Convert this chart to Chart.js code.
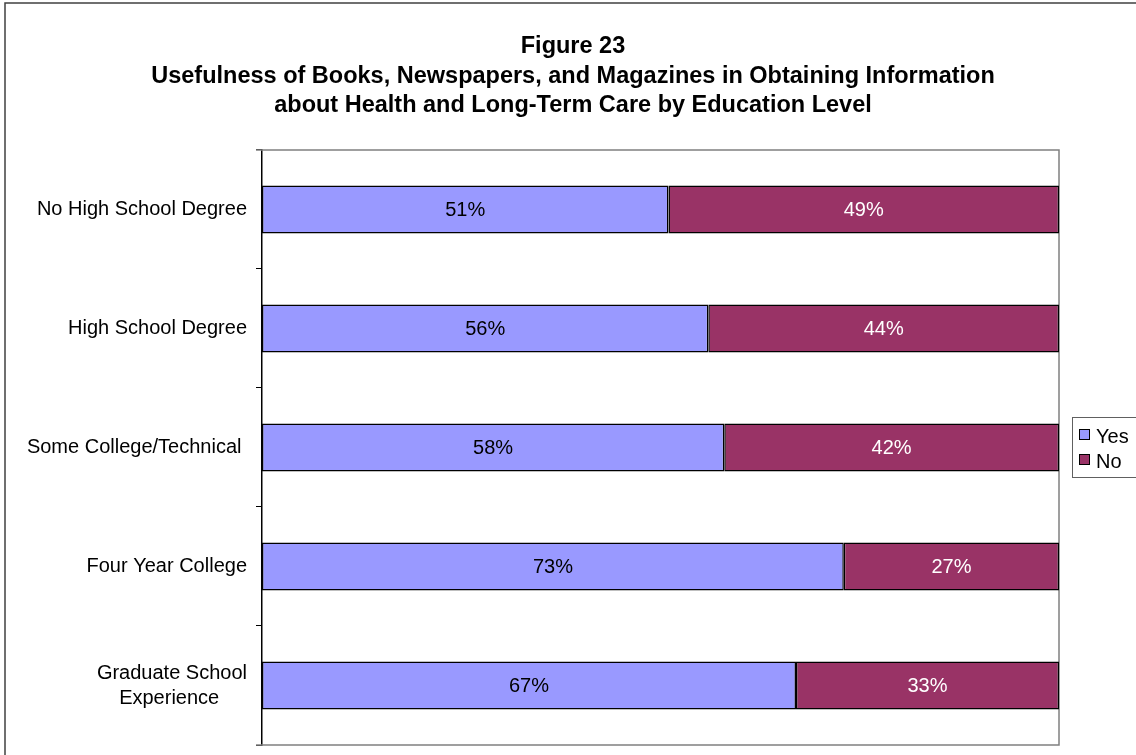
<!DOCTYPE html>
<html>
<head>
<meta charset="utf-8">
<script src="https://cdn.jsdelivr.net/npm/chart.js@4.4.1/dist/chart.umd.min.js"></script>
<style>
  body { margin: 0; background: #fff; }
  #wrap { width: 1136px; height: 755px; position: relative; }
</style>
</head>
<body>
<div id="wrap"><canvas id="eduChart"></canvas></div>
<script>
// Kategori pendidikan (label berakhiran spasi dibiarkan seperti aslinya)
const categories = [
  'No High School Degree',
  'High School Degree',
  'Some College/Technical ',
  'Four Year College',
  ['Graduate School', 'Experience     ']
];

// Persentase jawaban
const yesValues = [51, 56, 58, 73, 67];
const noValues = [49, 44, 42, 27, 33];

const seriesNames = ['Yes', 'No'];
const seriesColors = ['#9999FF', '#993366'];
const labelColors = ['#000000', '#FFFFFF'];

const FONT = 'Arial, "Liberation Sans", sans-serif';
const SMALL = 20;
Chart.defaults.font.family = FONT;
Chart.defaults.color = '#000';

// Legenda berbingkai di kanan, dipasang sebagai kotak layout sendiri
function makeLegendBox(chart) {
  return {
    position: 'right',
    fullSize: false,
    weight: 10,
    options: {},
    isHorizontal() { return false; },
    update(maxWidth, maxHeight) {
      this.width = 77;
      this.height = maxHeight;
    },
    draw() {
      const c = chart.ctx;
      const a = chart.chartArea;
      const left = this.left + 13.5;
      const top = Math.round((a.top + a.bottom) / 2) - 29.5;
      c.save();
      c.strokeStyle = '#606060';
      c.lineWidth = 1;
      c.strokeRect(left, top, 100, 60);
      c.font = SMALL + 'px ' + FONT;
      c.textAlign = 'left';
      c.textBaseline = 'alphabetic';
      seriesNames.forEach((name, i) => {
        const y = top + 12 + i * 25;
        c.fillStyle = seriesColors[i];
        c.fillRect(left + 7, y, 10, 10);
        c.strokeStyle = '#000';
        c.strokeRect(left + 7, y, 10, 10);
        c.fillStyle = '#000';
        c.fillText(name, left + 23.5, y + 13.5);
      });
      c.restore();
    }
  };
}

// Bingkai luar, garis plot abu-abu dan label nilai
const decorPlugin = {
  id: 'decor',
  beforeInit(chart) {
    Chart.layouts.addBox(chart, makeLegendBox(chart));
  },
  beforeDraw(chart) {
    const c = chart.ctx;
    c.save();
    c.fillStyle = '#fff';
    c.fillRect(0, 0, chart.width, chart.height);
    c.strokeStyle = '#404040';
    c.lineWidth = 1.5;
    c.strokeRect(5, 3, chart.width + 20, chart.height + 20);
    c.restore();
  },
  beforeDatasetsDraw(chart) {
    const a = chart.chartArea;
    const c = chart.ctx;
    c.save();
    c.strokeStyle = '#808080';
    c.lineWidth = 1.5;
    c.beginPath();
    c.moveTo(a.left - 6, a.top);
    c.lineTo(a.right, a.top);
    c.lineTo(a.right, a.bottom);
    c.lineTo(a.left - 6, a.bottom);
    c.stroke();
    c.restore();
  },
  afterDatasetsDraw(chart) {
    const c = chart.ctx;
    c.save();
    c.font = SMALL + 'px ' + FONT;
    c.textAlign = 'center';
    c.textBaseline = 'middle';
    chart.data.datasets.forEach((ds, i) => {
      const meta = chart.getDatasetMeta(i);
      meta.data.forEach((bar, j) => {
        c.fillStyle = labelColors[i];
        c.fillText(ds.data[j] + '%', (bar.x + bar.base) / 2, bar.y + 1);
      });
    });
    c.restore();
  }
};

const ctx = document.getElementById('eduChart').getContext('2d');

new Chart(ctx, {
  type: 'bar',
  data: {
    labels: categories,
    datasets: [
      {
        label: seriesNames[0],
        data: yesValues,
        backgroundColor: seriesColors[0],
        borderColor: '#000',
        borderWidth: 1.5,
        borderSkipped: false
      },
      {
        label: seriesNames[1],
        data: noValues,
        backgroundColor: seriesColors[1],
        borderColor: '#000',
        borderWidth: 1.5,
        borderSkipped: false
      }
    ]
  },
  options: {
    indexAxis: 'y',
    responsive: true,
    maintainAspectRatio: false,
    animation: false,
    barPercentage: 0.403,
    categoryPercentage: 1,
    layout: {
      padding: { top: 0, left: 10, right: 0, bottom: 10 }
    },
    plugins: {
      legend: { display: false },
      tooltip: { enabled: false },
      title: {
        display: true,
        text: [
          'Figure 23',
          'Usefulness of Books, Newspapers, and Magazines in Obtaining Information',
          'about Health and Long-Term Care by Education Level'
        ],
        font: { size: 23.5, weight: 'bold', lineHeight: 1.255 },
        color: '#000',
        padding: { top: 32, bottom: 29.5 }
      }
    },
    scales: {
      x: {
        stacked: true,
        min: 0,
        max: 100,
        display: false
      },
      y: {
        stacked: true,
        grid: {
          offset: true,
          drawOnChartArea: false,
          color: '#000',
          tickLength: 6
        },
        border: { color: '#000', width: 1.5 },
        ticks: {
          font: { size: SMALL, lineHeight: 1.25 },
          color: '#000',
          padding: 9
        },
        afterFit(scale) {
          scale.width = 252;
          scale.paddingTop = 0;
          scale.paddingBottom = 0;
        }
      }
    }
  },
  plugins: [decorPlugin]
});
</script>
</body>
</html>
